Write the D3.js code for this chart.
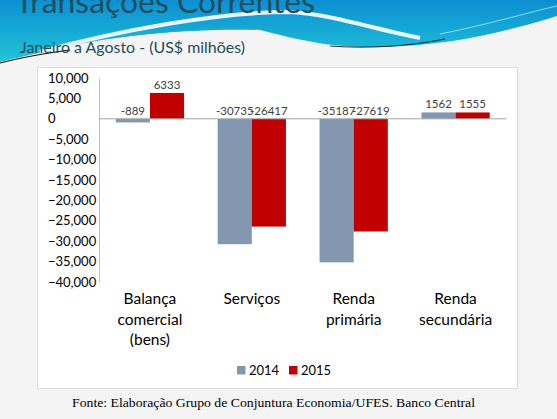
<!DOCTYPE html>
<html lang="pt">
<head>
<meta charset="utf-8">
<title>Transações Correntes</title>
<style>
  body { margin: 0; background: #f4f4f4; }
  svg { display: block; font-family: Lato, "Open Sans", sans-serif; }
</style>
</head>
<body>
<script src="https://cdn.jsdelivr.net/npm/d3@7"></script>
<script>

    var w = 557;
    var h = 419;

    // data (US$ milhoes, janeiro a agosto)
    var categories = ["Balança comercial (bens)", "Serviços", "Renda primária", "Renda secundária"];
    var categoryLines = [["Balança", "comercial", "(bens)"], ["Serviços"], ["Renda", "primária"], ["Renda", "secundária"]];
    var series = ["2014", "2015"];
    var values2014 = [-889, -30735, -35187, 1562];
    var values2015 = [6333, -26417, -27619, 1555];
    var yTicks = [10000, 5000, 0, -5000, -10000, -15000, -20000, -25000, -30000, -35000, -40000];
    var colors = ["#8497b0", "#c00000"];

    var svg = d3.select("body")
            .append("svg")
            .attr("width", w)
            .attr("height", h);

    // header decoration
    var defs = svg.append("defs");
    var grad = defs.append("linearGradient")
            .attr("id", "hdr")
            .attr("x1", 0).attr("y1", 0).attr("x2", 0).attr("y2", 1);
    grad.append("stop").attr("offset", "0%").attr("stop-color", "#0d8fd2");
    grad.append("stop").attr("offset", "100%").attr("stop-color", "#20c4d8");

    svg.append("path")
        .attr("d", "M0,0 H557 V16 C505,32 450,46 380,47 C330,48 300,40 260,30 C200,28 120,34 60,48 C35,54 15,58 0,62 Z")
        .attr("fill", "url(#hdr)");

    svg.append("path")
        .attr("d", "M40,52 C120,30 220,12 290,12 C330,14 370,28 420,38")
        .attr("fill", "none").attr("stroke", "#fff").attr("stroke-width", 4).attr("opacity", 0.9);
    svg.append("path")
        .attr("d", "M110,38 C180,29 230,27 275,29")
        .attr("fill", "none").attr("stroke", "#2aaac0").attr("stroke-width", 1);
    svg.append("path")
        .attr("d", "M440,34 C490,24 530,12 557,6")
        .attr("fill", "none").attr("stroke", "#8fdcec").attr("stroke-width", 1);
    svg.append("path")
        .attr("d", "M0,63 C20,58 40,54 70,50")
        .attr("fill", "none").attr("stroke", "#000").attr("stroke-width", 1);
    svg.append("path")
        .attr("d", "M330,46 C370,49 410,46 445,39")
        .attr("fill", "none").attr("stroke", "#000").attr("stroke-width", 0.8);

    svg.append("text")
        .attr("x", 15).attr("y", 13)
        .attr("font-size", 31)
        .attr("fill", "#1d4f5e")
        .attr("textLength", 300).attr("lengthAdjust", "spacingAndGlyphs")
        .text("Transações Correntes");

    svg.append("text")
        .attr("x", 20).attr("y", 53)
        .attr("font-size", 16)
        .attr("fill", "#244c5a")
        .attr("textLength", 225).attr("lengthAdjust", "spacingAndGlyphs")
        .text("Janeiro a Agosto - (US$ milhões)");

    // chart area
    svg.append("rect")
        .attr("x", 37.5).attr("y", 67.5)
        .attr("width", 480).attr("height", 321)
        .attr("fill", "#fff")
        .attr("stroke", "#d9d9d9");

    var y = d3.scaleLinear()
            .domain([-40000, 10000])
            .range([282, 78]);

    var x0 = d3.scaleBand()
            .domain(categories)
            .range([99, 506.5])
            .paddingInner(0.33)
            .paddingOuter(0.165);

    var x1 = d3.scaleBand()
            .domain(series)
            .range([0, x0.bandwidth()]);

    //y axis labels are left aligned in the original
    var yAxis = d3.axisLeft(y)
            .tickValues(yTicks)
            .tickFormat(d3.format(","))
            .tickSize(0);

    var gy = svg.append("g")
            .attr("transform", "translate(99,0)")
            .call(yAxis);
    gy.select(".domain").attr("stroke", "#bfbfbf");
    gy.selectAll(".tick text")
        .attr("x", -51)
        .attr("text-anchor", "start")
        .attr("font-size", 13)
        .attr("font-family", "Lato, sans-serif")
        .attr("fill", "#000");

    var rows = categories.map(function(c, i) {
        return { cat: c, vals: [values2014[i], values2015[i]] };
    });

    var groups = svg.selectAll("g.cat")
            .data(rows)
            .enter()
            .append("g")
            .attr("class", "cat")
            .attr("transform", function(d) { return "translate(" + x0(d.cat) + ",0)"; });

    groups.selectAll("rect")
        .data(function(d) { return d.vals.map(function(v, j) { return { s: series[j], v: v, j: j }; }); })
        .enter()
        .append("rect")
        .attr("x", function(d) { return x1(d.s); })
        .attr("width", x1.bandwidth())
        .attr("y", function(d) { return y(Math.max(0, d.v)); })
        .attr("height", function(d) { return Math.abs(y(d.v) - y(0)); })
        .attr("fill", function(d) { return colors[d.j]; });

    groups.selectAll("text.lbl")
        .data(function(d) { return d.vals.map(function(v, j) { return { s: series[j], v: v }; }); })
        .enter()
        .append("text")
        .attr("class", "lbl")
        .attr("x", function(d) { return x1(d.s) + x1.bandwidth() / 2; })
        .attr("y", function(d) { return y(Math.max(0, d.v)) - 4; })
        .attr("text-anchor", "middle")
        .attr("font-size", 11.5)
        .attr("fill", "#404040")
        .text(function(d) { return d.v; });

    // zero line drawn over bars
    svg.append("line")
        .attr("x1", 99).attr("x2", 506.5)
        .attr("y1", y(0)).attr("y2", y(0))
        .attr("stroke", "#a6a6a6");

    // category labels
    groups.append("text")
        .attr("text-anchor", "middle")
        .attr("font-size", 15.5)
        .attr("fill", "#000")
        .selectAll("tspan")
        .data(function(d, i) { return categoryLines[i]; })
        .enter()
        .append("tspan")
        .attr("x", x0.bandwidth() / 2)
        .attr("y", function(d, i) { return 304 + i * 20.5; })
        .text(function(d) { return d; });

    // legend
    var legX = [237, 289];
    var leg = svg.selectAll("g.leg")
            .data(series)
            .enter()
            .append("g")
            .attr("class", "leg")
            .attr("transform", function(d, i) { return "translate(" + legX[i] + ",366)"; });
    leg.append("rect")
        .attr("width", 8.5).attr("height", 8.5)
        .attr("fill", function(d, i) { return colors[i]; });
    leg.append("text")
        .attr("x", 12).attr("y", 9)
        .attr("font-size", 13)
        .attr("fill", "#000")
        .text(function(d) { return d; });

    // source
    svg.append("text")
        .attr("x", 72).attr("y", 407)
        .style("font-family", "'Liberation Serif', 'DejaVu Serif', serif")
        .attr("font-size", 13)
        .attr("fill", "#000")
        .attr("textLength", 403).attr("lengthAdjust", "spacingAndGlyphs")
        .text("Fonte: Elaboração Grupo de Conjuntura Economia/UFES. Banco Central");

</script>
</body>
</html>
